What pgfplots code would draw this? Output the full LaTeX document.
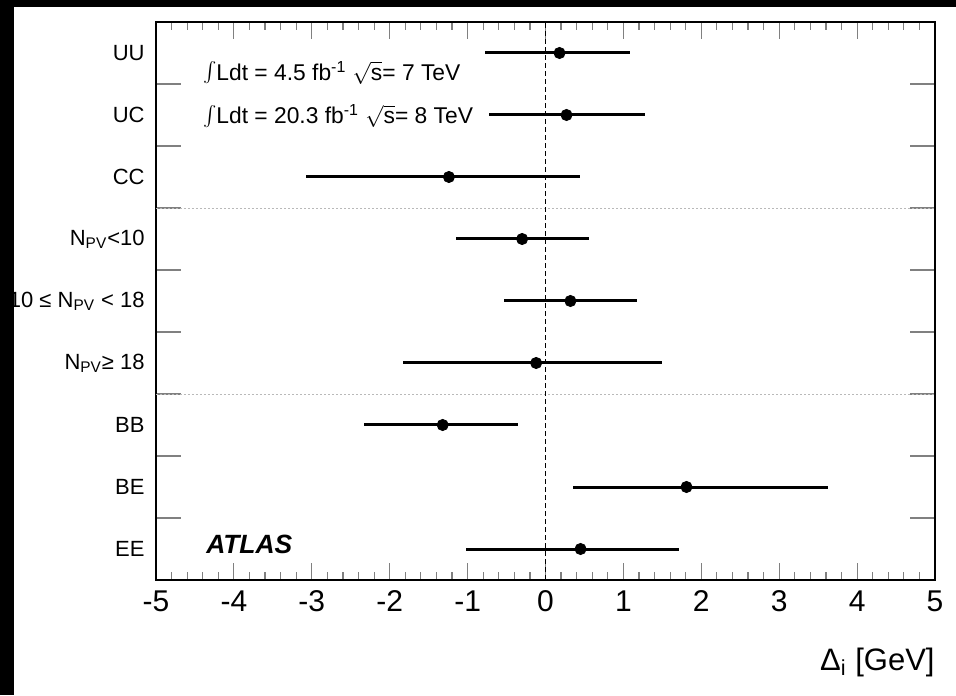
\documentclass[border=0pt]{standalone}
\usepackage{fontspec}
\setmainfont{Liberation Sans}
\usepackage{pgfplots}
\pgfplotsset{compat=1.18}
\usepackage{pgfplotstable}

\pgfplotstableread{
y x ep em
8 0.18 0.90 0.96
7 0.27 1.01 0.99
6 -1.24 1.68 1.83
5 -0.30 0.86 0.845
4 0.32 0.86 0.85
3 -0.12 1.62 1.71
2 -1.32 0.97 1.01
1 1.81 1.81 1.455
0 0.45 1.27 1.47
}\datatable

\begin{document}
\begin{tikzpicture}
\useasboundingbox[fill=white] (-78pt,-57.5pt) rectangle (400pt,290pt);
\fill[black] (-78pt,-57.5pt) rectangle (-71pt,290pt);
\fill[black] (-78pt,286.5pt) rectangle (400pt,290pt);
\begin{axis}[
  at={(0pt,0pt)}, anchor=south west,
  scale only axis,
  width=389.5pt, height=279pt,
  xmin=-5, xmax=5, ymin=-0.5, ymax=8.5,
  axis line style={line width=0.7pt},
  xtick={-5,...,5},
  minor x tick num=4,
  major tick length=8.5pt,
  minor tick length=4pt,
  tick style={line width=0.6pt},
  ytick={-0.5,0.5,...,8.5},
  y tick label as interval,
  yticklabels={EE,BE,BB,{N\textsubscript{PV}≥ 18},{10 ≤ N\textsubscript{PV} < 18},{N\textsubscript{PV}<10},CC,UC,UU},
  ytick style={/pgfplots/major tick length=12.3pt},
  yticklabel style={font=\fontsize{11}{13}\selectfont, anchor=east, inner sep=0pt, xshift=-5.5pt},
  xticklabel style={font=\fontsize{15}{17}\selectfont, inner sep=0pt, yshift=-5pt},
  /pgf/number format/assume math mode=true,
  xlabel={Δ\textsubscript{i} [GeV]},
  xlabel style={at={(rel axis cs:1,0)}, anchor=base east, inner sep=0pt, yshift=-45pt, font=\fontsize{15.5}{17}\selectfont},
  clip=false,
]
\addplot[gray!55, line width=0.4pt, dash pattern=on 1.2pt off 0.8pt] coordinates {(-5,5.5) (5,5.5)};
\addplot[gray!55, line width=0.4pt, dash pattern=on 1.2pt off 0.8pt] coordinates {(-5,2.5) (5,2.5)};
\addplot[black, line width=0.5pt, dash pattern=on 2.5pt off 1.5pt] coordinates {(0,-0.5) (0,8.5)};
\addplot[only marks, mark=*, mark size=2.8pt, black,
  error bars/.cd, x dir=both, x explicit, error mark=none,
  error bar style={line width=1.5pt, black}]
  table[x=x, y=y, x error plus=ep, x error minus=em]{\datatable};
\node[anchor=west, inner sep=0pt, font=\fontsize{11.4}{13}\selectfont] at (axis cs:-4.40,7.68) {{\Large$\int$}Ldt = 4.5 fb\textsuperscript{-1} $\sqrt{\mbox{s}}$= 7 TeV};
\node[anchor=west, inner sep=0pt, font=\fontsize{11.4}{13}\selectfont] at (axis cs:-4.40,6.98) {{\Large$\int$}Ldt = 20.3 fb\textsuperscript{-1} $\sqrt{\mbox{s}}$= 8 TeV};
\node[anchor=west, inner sep=0pt, font=\fontsize{13.2}{15}\bfseries\itshape] at (axis cs:-4.36,0.08) {ATLAS};
\end{axis}
\end{tikzpicture}
\end{document}
